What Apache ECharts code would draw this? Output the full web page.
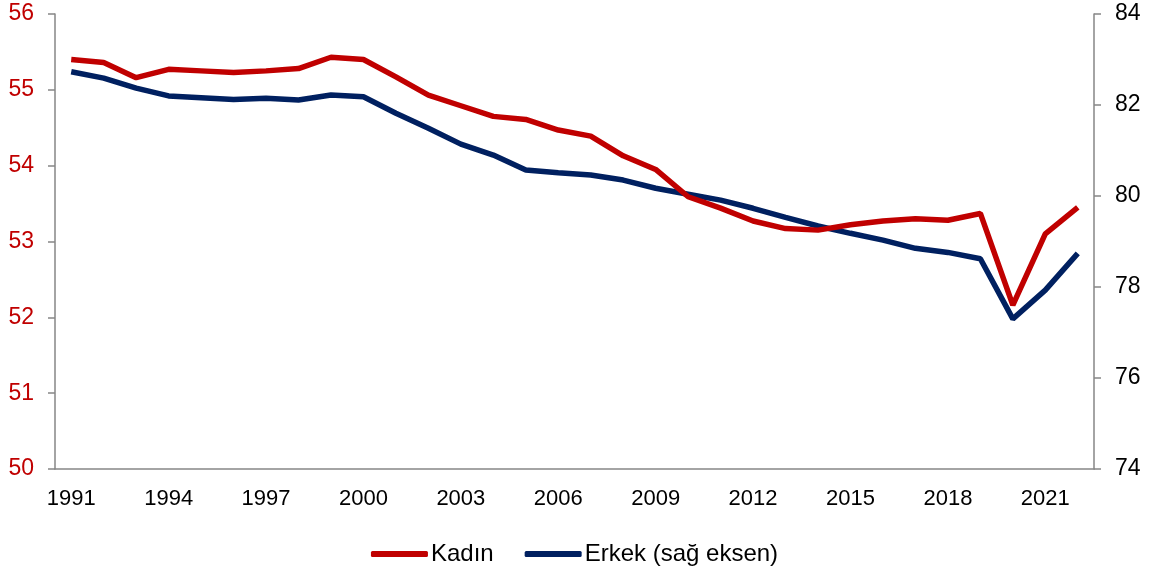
<!DOCTYPE html>
<html>
<head>
<meta charset="utf-8">
<script src="https://cdn.jsdelivr.net/npm/echarts@6/dist/echarts.min.js"></script>
<style>html,body{margin:0;padding:0;background:#fff}#c{width:1149px;height:569px}</style>
</head>
<body>
<div id="c"></div>
<script>
const years = ['1991','1992','1993','1994','1995','1996','1997','1998','1999','2000','2001','2002','2003','2004','2005','2006','2007','2008','2009','2010','2011','2012','2013','2014','2015','2016','2017','2018','2019','2020','2021','2022'];
const kadin = [55.40,55.36,55.16,55.27,55.25,55.23,55.25,55.28,55.43,55.40,55.17,54.93,54.79,54.65,54.61,54.47,54.39,54.13,53.95,53.59,53.44,53.27,53.17,53.15,53.22,53.27,53.30,53.28,53.37,52.16,53.10,53.45];
const erkek = [82.73,82.59,82.37,82.20,82.16,82.12,82.15,82.11,82.22,82.18,81.82,81.49,81.14,80.90,80.57,80.51,80.46,80.35,80.17,80.04,79.91,79.73,79.53,79.34,79.18,79.03,78.85,78.76,78.62,77.30,77.93,78.74];
const leftTicks = [50, 56, 1];
const rightTicks = [74, 84, 2];

const chart = echarts.init(document.getElementById('c'), null, {renderer: 'canvas'});
const font = 'Liberation Sans, Arial, sans-serif';
chart.setOption({
  animation: false,
  grid: {left: 55, right: 55, top: 14, bottom: 100, containLabel: false},
  legend: {
    top: 537, left: 'center',
    icon: 'roundRect', itemWidth: 57, itemHeight: 6, itemGap: 31,
    textStyle: {fontFamily: font, fontSize: 24, color: '#000', padding: [0, 0, 0, -2]},
    data: ['Kadın', 'Erkek (sağ eksen)']
  },
  xAxis: {
    type: 'category', data: years, boundaryGap: true,
    axisLine: {lineStyle: {color: '#868686', width: 1.5}},
    axisTick: {show: false},
    axisLabel: {interval: 2, fontFamily: font, fontSize: 22, color: '#000', margin: 19}
  },
  yAxis: [
    {
      type: 'value', min: leftTicks[0], max: leftTicks[1], interval: leftTicks[2], position: 'left',
      splitLine: {show: false},
      axisLine: {show: true, lineStyle: {color: '#868686', width: 1.5}},
      axisTick: {show: true, length: 7, lineStyle: {color: '#868686', width: 1.5}},
      axisLabel: {fontFamily: font, fontSize: 23, color: '#C00000', margin: 21}
    },
    {
      type: 'value', min: rightTicks[0], max: rightTicks[1], interval: rightTicks[2], position: 'right',
      splitLine: {show: false},
      axisLine: {show: true, lineStyle: {color: '#868686', width: 1.5}},
      axisTick: {show: true, length: 7, lineStyle: {color: '#868686', width: 1.5}},
      axisLabel: {fontFamily: font, fontSize: 23, color: '#000', margin: 21}
    }
  ],
  series: [
    {name: 'Kadın', type: 'line', yAxisIndex: 0, data: kadin, symbol: 'none',
     lineStyle: {color: '#C00000', width: 5.5}, itemStyle: {color: '#C00000'}, z: 3},
    {name: 'Erkek (sağ eksen)', type: 'line', yAxisIndex: 1, data: erkek, symbol: 'none',
     lineStyle: {color: '#002060', width: 5.5}, itemStyle: {color: '#002060'}, z: 2}
  ]
});
</script>
</body>
</html>
